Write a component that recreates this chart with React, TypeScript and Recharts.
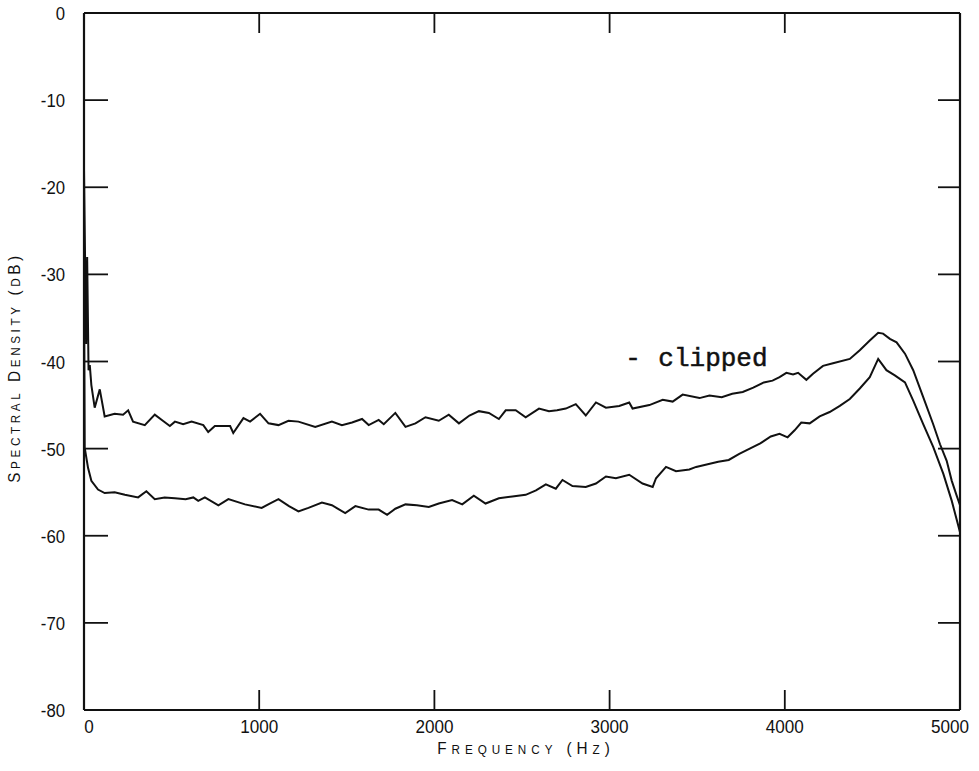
import { LineChart, Line, XAxis, YAxis, ReferenceDot } from 'recharts';

// values (Hz, dB)
const upperFreq = [
  0, 12, 18, 26, 33, 42, 61, 90, 118, 175, 223, 252, 280, 347, 404, 450, 490, 519, 566, 614,
  681, 709, 747, 834, 852, 910, 948, 1005, 1053, 1110, 1167, 1224, 1320, 1415, 1472, 1530,
  1587, 1625, 1682, 1711, 1777, 1835, 1892, 1949, 2025, 2082, 2140, 2200, 2254, 2311, 2368,
  2407, 2464, 2521, 2597, 2654, 2700, 2750, 2807, 2864, 2922, 2979, 3055, 3112, 3131, 3227,
  3303, 3360, 3417, 3513, 3570, 3640, 3700, 3760, 3820, 3880, 3930, 3970, 4009, 4047, 4076,
  4123, 4161, 4218, 4275, 4371, 4428, 4485, 4533, 4561, 4600, 4638, 4686, 4733, 4790, 4847,
  4886, 4924, 4953, 4981, 5000,
];
const upperDb = [
  -18, -38, -28, -41, -40.4, -42.7, -45.3, -43.2, -46.3, -46.0, -46.1, -45.6, -46.9, -47.3,
  -46.1, -46.8, -47.4, -46.9, -47.2, -46.9, -47.3, -48.1, -47.4, -47.4, -48.2, -46.5, -46.9,
  -46.0, -47.1, -47.3, -46.8, -46.9, -47.5, -46.9, -47.3, -47.0, -46.6, -47.3, -46.7, -47.2,
  -45.9, -47.5, -47.1, -46.4, -46.8, -46.1, -47.1, -46.2, -45.7, -45.9, -46.6, -45.6, -45.6,
  -46.4, -45.4, -45.7, -45.6, -45.4, -44.9, -46.2, -44.7, -45.3, -45.1, -44.7, -45.4, -45.0,
  -44.4, -44.6, -43.8, -44.2, -43.9, -44.1, -43.7, -43.5, -43.0, -42.4, -42.2, -41.8, -41.3,
  -41.5, -41.3, -42.1, -41.4, -40.5, -40.2, -39.7, -38.7, -37.6, -36.7, -36.8, -37.4, -37.8,
  -39.1, -41.0, -44.1, -47.2, -49.5, -51.4, -53.7, -55.4, -56.5,
];
const lowerFreq = [
  0, 4, 23, 42, 80, 118, 175, 233, 309, 356, 404, 460, 519, 580, 624, 652, 690, 767, 824, 919,
  1014, 1060, 1110, 1170, 1224, 1281, 1358, 1415, 1491, 1549, 1625, 1682, 1730, 1777, 1835,
  1900, 1968, 2025, 2101, 2159, 2225, 2292, 2368, 2445, 2521, 2580, 2636, 2693, 2731, 2788,
  2864, 2922, 2979, 3036, 3112, 3188, 3246, 3265, 3322, 3379, 3455, 3494, 3560, 3620, 3680,
  3740, 3800, 3860, 3920, 3970, 4016, 4056, 4094, 4142, 4199, 4256, 4314, 4371, 4428, 4485,
  4533, 4580, 4628, 4686, 4733, 4790, 4847, 4905, 4953, 5000,
];
const lowerDb = [
  -30, -49.9, -52.2, -53.7, -54.7, -55.1, -55.0, -55.3, -55.6, -54.9, -55.8, -55.6, -55.7,
  -55.8, -55.6, -56.0, -55.6, -56.5, -55.8, -56.4, -56.8, -56.3, -55.8, -56.6, -57.2, -56.8,
  -56.2, -56.5, -57.4, -56.6, -57.0, -57.0, -57.6, -56.9, -56.4, -56.5, -56.7, -56.3, -55.9,
  -56.4, -55.4, -56.3, -55.7, -55.5, -55.3, -54.8, -54.1, -54.6, -53.6, -54.3, -54.4, -54.0,
  -53.2, -53.4, -53.0, -54.0, -54.4, -53.4, -52.1, -52.6, -52.4, -52.1, -51.8, -51.5, -51.3,
  -50.6, -50.0, -49.4, -48.6, -48.3, -48.7, -47.9, -47.0, -47.1, -46.3, -45.8, -45.1, -44.3,
  -43.1, -41.8, -39.7, -41.0, -41.6, -42.4, -44.5, -47.2, -49.8, -52.9, -56.0, -59.6,
];

const freqTicks = [0, 1000, 2000, 3000, 4000, 5000];
const dbTicks = [0, -10, -20, -30, -40, -50, -60, -70, -80];

const upper = upperFreq.map((f, i) => ({ f, db: upperDb[i] }));
const lower = lowerFreq.map((f, i) => ({ f, db: lowerDb[i] }));

const INK = '#111';
const FONT = '"Liberation Sans", Arial, sans-serif';
const MONO = '"Liberation Mono", "DejaVu Sans Mono", monospace';

// lowercase letters become small capitals
function capsRuns(text: string) {
  const runs: { t: string; small: boolean }[] = [];
  for (const ch of text) {
    const small = ch !== ch.toUpperCase();
    const c = small ? ch.toUpperCase() : ch;
    const last = runs[runs.length - 1];
    if (last && last.small === small) last.t += c;
    else runs.push({ t: c, small });
  }
  return runs;
}

function CapsTitle(props: { x: number; y: number; text: string; spacing: number; rotate?: boolean }) {
  const { x, y, text, spacing, rotate } = props;
  return (
    <g transform={`translate(${x},${y})${rotate ? ' rotate(-90)' : ''}`}>
      <text textAnchor="middle" fontFamily={FONT} fill={INK} letterSpacing={spacing} transform="scale(0.9,1)">
        {capsRuns(text).map((r, i) => (
          <tspan key={i} fontSize={r.small ? 13 : 17}>
            {r.t}
          </tspan>
        ))}
      </text>
    </g>
  );
}

// narrow plotter-style digits
function DbTick(props: any) {
  const { x, y, payload } = props;
  return (
    <g transform={`translate(${x},${y})`}>
      <text textAnchor="end" dy={7} fontFamily={FONT} fontSize={19} fill={INK} transform="scale(0.88,1)">
        {payload.value}
      </text>
    </g>
  );
}

function FreqTick(props: any) {
  const { x, y, payload } = props;
  const shift = payload.value === 5000 ? -10 : payload.value === 0 ? 5 : 0;
  return (
    <g transform={`translate(${x + shift},${y})`}>
      <text textAnchor="middle" dy={13} fontFamily={FONT} fontSize={19} fill={INK} transform="scale(0.9,1)">
        {payload.value}
      </text>
    </g>
  );
}

const axisLine = { stroke: INK, strokeWidth: 2.2 };
const tickLine = { stroke: INK, strokeWidth: 1.8 };

export default function App() {
  return (
    <div style={{ position: 'absolute', left: 0, top: 0, background: '#fff' }}>
      <LineChart width={979} height={771} margin={{ top: 0, right: 0, bottom: 0, left: 0 }}>
        <XAxis
          dataKey="f"
          type="number"
          domain={[0, 5000]}
          allowDataOverflow
          ticks={freqTicks}
          interval={0}
          height={61}
          axisLine={axisLine}
          tickLine={tickLine}
          tickSize={-20}
          tickMargin={30}
          tick={<FreqTick />}
          label={{
            content: (p: any) => (
              <CapsTitle
                x={p.viewBox.x + p.viewBox.width / 2 + 4}
                y={p.viewBox.y + 44}
                text="Frequency (Hz)"
                spacing={5.5}
              />
            ),
          }}
        />
        <XAxis
          xAxisId="top"
          orientation="top"
          dataKey="f"
          type="number"
          domain={[0, 5000]}
          allowDataOverflow
          ticks={freqTicks}
          interval={0}
          height={13}
          axisLine={axisLine}
          tickLine={tickLine}
          tickSize={-20}
          tickFormatter={() => ''}
        />
        <YAxis
          type="number"
          domain={[-80, 0]}
          allowDataOverflow
          ticks={dbTicks}
          interval={0}
          width={84}
          axisLine={axisLine}
          tickLine={tickLine}
          tickSize={-24}
          tickMargin={43}
          tick={<DbTick />}
          label={{
            content: (p: any) => (
              <CapsTitle
                x={20}
                y={p.viewBox.y + p.viewBox.height / 2 + 6}
                text="Spectral Density (dB)"
                spacing={4}
                rotate
              />
            ),
          }}
        />
        <YAxis
          yAxisId="right"
          orientation="right"
          type="number"
          domain={[-80, 0]}
          allowDataOverflow
          ticks={dbTicks}
          interval={0}
          width={19}
          axisLine={axisLine}
          tickLine={tickLine}
          tickSize={-22}
          tickFormatter={() => ''}
        />
        <Line
          data={upper}
          dataKey="db"
          type="linear"
          stroke={INK}
          strokeWidth={2}
          dot={false}
          isAnimationActive={false}
        />
        <Line
          data={lower}
          dataKey="db"
          type="linear"
          stroke={INK}
          strokeWidth={2}
          dot={false}
          isAnimationActive={false}
        />
        <ReferenceDot
          x={3090}
          y={-40.5}
          r={0}
          stroke="none"
          fill="none"
          label={{
            content: (p: any) => (
              <g fontFamily={MONO} fontSize={26} fill={INK} stroke={INK} strokeWidth={0.5}>
                <text x={p.viewBox.x} y={p.viewBox.y}>-</text>
                <text x={p.viewBox.x + 33} y={p.viewBox.y}>clipped</text>
              </g>
            ),
          }}
        />
      </LineChart>
    </div>
  );
}
